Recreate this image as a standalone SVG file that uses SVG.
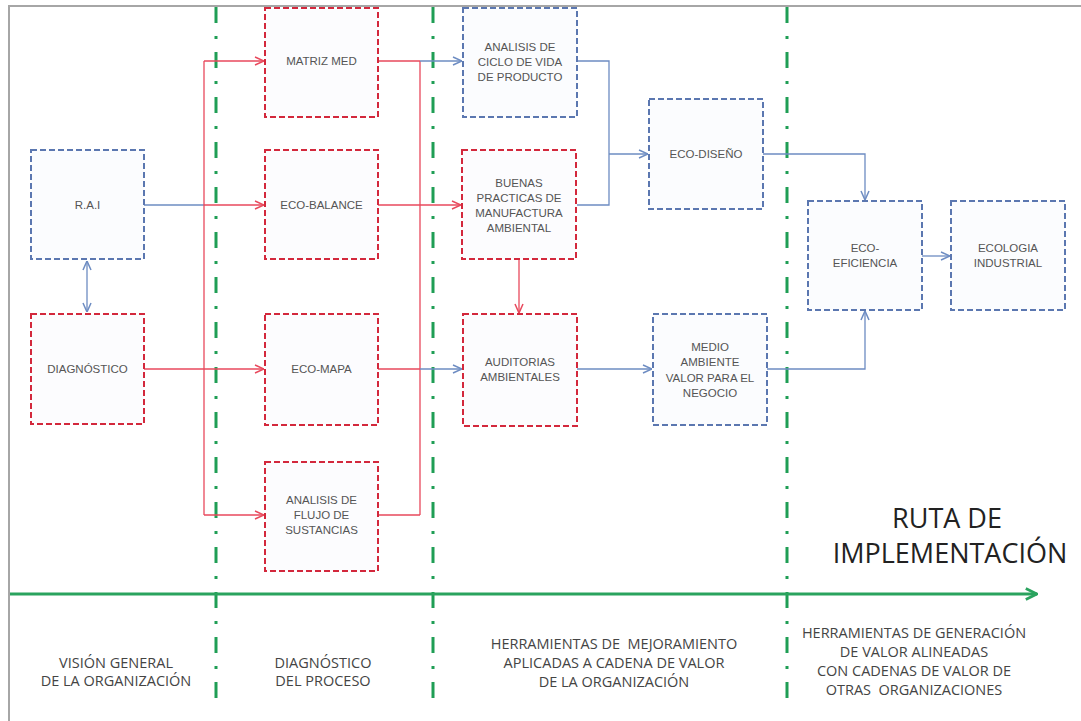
<svg xmlns="http://www.w3.org/2000/svg" width="1081" height="721" viewBox="0 0 1081 721">
<style>
.frame{fill:none;stroke:#a6a6a6;stroke-width:2}
.sep{fill:none;stroke:#1f9e55;stroke-width:3;stroke-dasharray:16 13 3 13}
.nr{fill:#fcfcfe;stroke:#d3283c;stroke-width:2;stroke-dasharray:6 3}
.nb{fill:#fbfcfe;stroke:#5b77b0;stroke-width:2;stroke-dasharray:6 3}
.t{font-family:"Liberation Sans",Arial,sans-serif;font-size:11.5px;fill:#555;text-anchor:middle}
.cr{fill:none;stroke:#e8495c;stroke-width:1.3}
.cb{fill:none;stroke:#6d8cc2;stroke-width:1.3}
.lab{font-family:"Open Sans","Liberation Sans",sans-serif;font-size:14.5px;fill:#444;text-anchor:middle}
.big{font-family:"Open Sans","Liberation Sans",sans-serif;font-size:27px;fill:#222;text-anchor:middle}
</style>
<defs>
<marker id="ar" viewBox="0 0 10 10" refX="10" refY="5" markerWidth="10" markerHeight="10" markerUnits="userSpaceOnUse" orient="auto-start-reverse"><path d="M1,1 L10,5 L1,9" fill="none" stroke="#e8495c" stroke-width="1.5"/></marker>
<marker id="ab" viewBox="0 0 10 10" refX="10" refY="5" markerWidth="10" markerHeight="10" markerUnits="userSpaceOnUse" orient="auto-start-reverse"><path d="M1,1 L10,5 L1,9" fill="none" stroke="#6d8cc2" stroke-width="1.5"/></marker>
<marker id="ag" viewBox="0 0 10 10" refX="9" refY="5" markerWidth="14" markerHeight="14" markerUnits="userSpaceOnUse" orient="auto"><path d="M1,1 L9,5 L1,9" fill="none" stroke="#2aa35e" stroke-width="2"/></marker>
</defs>
<rect x="0" y="0" width="1081" height="721" fill="#fff"/>
<rect class="frame" x="9" y="6" width="1090" height="730"/>
<g id="separators">
<line class="sep" x1="216" y1="7" x2="216" y2="705"/>
<line class="sep" x1="433" y1="7" x2="433" y2="705"/>
<line class="sep" x1="787" y1="7" x2="787" y2="705"/>
</g>
<g id="timeline">
<line x1="10" y1="594" x2="1037" y2="594" stroke="#2aa35e" stroke-width="3" marker-end="url(#ag)"/>
<text class="big" x="947" y="528">RUTA DE</text>
<text class="big" x="950" y="563">IMPLEMENTACIÓN</text>
</g>
<g id="connectors">
<path class="cb" d="M144,205 H204"/>
<path class="cb" d="M87,261 V312" marker-start="url(#ab)" marker-end="url(#ab)"/>
<path class="cr" d="M204,61 V515"/>
<path class="cr" d="M204,61 H264" marker-end="url(#ar)"/>
<path class="cr" d="M204,205 H264" marker-end="url(#ar)"/>
<path class="cr" d="M144,369 H264" marker-end="url(#ar)"/>
<path class="cr" d="M204,515 H264" marker-end="url(#ar)"/>
<path class="cr" d="M378,61 H420 M378,369 H420 M378,515 H420 M420,61 V515"/>
<path class="cr" d="M378,205 H461" marker-end="url(#ar)"/>
<path class="cr" d="M519,260 V313" marker-end="url(#ar)"/>
<path class="cb" d="M420,61 H462" marker-end="url(#ab)"/>
<path class="cb" d="M420,369 H462" marker-end="url(#ab)"/>
<path class="cb" d="M577,61 H609 V205 H577"/>
<path class="cb" d="M609,154 H648" marker-end="url(#ab)"/>
<path class="cb" d="M577,369 H652" marker-end="url(#ab)"/>
<path class="cb" d="M763,154 H865 V200" marker-end="url(#ab)"/>
<path class="cb" d="M767,369 H865 V311" marker-end="url(#ab)"/>
<path class="cb" d="M922,256 H950" marker-end="url(#ab)"/>
</g>
<g id="rai"><rect class="nb" x="31" y="150" width="113" height="109"/><text class="t" x="87.5" y="209">R.A.I</text></g>
<g id="diagnostico"><rect class="nr" x="31" y="314" width="113" height="110"/><text class="t" x="87.5" y="373">DIAGNÓSTICO</text></g>
<g id="matriz-med"><rect class="nr" x="265" y="8" width="113" height="109"/><text class="t" x="321.5" y="65">MATRIZ MED</text></g>
<g id="eco-balance"><rect class="nr" x="265" y="150" width="113" height="109"/><text class="t" x="321.5" y="209">ECO-BALANCE</text></g>
<g id="eco-mapa"><rect class="nr" x="265" y="314" width="113" height="111"/><text class="t" x="321.5" y="373">ECO-MAPA</text></g>
<g id="flujo"><rect class="nr" x="265" y="462" width="113" height="109"/><text class="t" x="321.5" y="504">ANALISIS DE</text><text class="t" x="321.5" y="519">FLUJO DE</text><text class="t" x="321.5" y="534">SUSTANCIAS</text></g>
<g id="ciclo-vida"><rect class="nb" x="463" y="8" width="114" height="109"/><text class="t" x="520" y="51">ANALISIS DE</text><text class="t" x="520" y="66">CICLO DE VIDA</text><text class="t" x="520" y="81">DE PRODUCTO</text></g>
<g id="buenas-practicas"><rect class="nr" x="462" y="150" width="114" height="109"/><text class="t" x="519" y="187">BUENAS</text><text class="t" x="519" y="202">PRACTICAS DE</text><text class="t" x="519" y="217">MANUFACTURA</text><text class="t" x="519" y="232">AMBIENTAL</text></g>
<g id="auditorias"><rect class="nr" x="463" y="314" width="114" height="112"/><text class="t" x="520" y="366">AUDITORIAS</text><text class="t" x="520" y="381">AMBIENTALES</text></g>
<g id="eco-diseno"><rect class="nb" x="649" y="99" width="114" height="110"/><text class="t" x="706" y="158">ECO-DISEÑO</text></g>
<g id="medio-ambiente"><rect class="nb" x="653" y="314" width="114" height="111"/><text class="t" x="710" y="351">MEDIO</text><text class="t" x="710" y="366">AMBIENTE</text><text class="t" x="710" y="382">VALOR PARA EL</text><text class="t" x="710" y="397">NEGOCIO</text></g>
<g id="eco-eficiencia"><rect class="nb" x="808" y="201" width="114" height="109"/><text class="t" x="865" y="252">ECO-</text><text class="t" x="865" y="267">EFICIENCIA</text></g>
<g id="ecologia-industrial"><rect class="nb" x="951" y="201" width="114" height="109"/><text class="t" x="1008" y="252">ECOLOGIA</text><text class="t" x="1008" y="267">INDUSTRIAL</text></g>
<g id="phase-labels">
<text class="lab" x="116" y="668">VISIÓN GENERAL</text>
<text class="lab" x="116" y="686">DE LA ORGANIZACIÓN</text>
<text class="lab" x="323" y="668">DIAGNÓSTICO</text>
<text class="lab" x="323" y="686">DEL PROCESO</text>
<text class="lab" x="614" y="649" xml:space="preserve">HERRAMIENTAS DE  MEJORAMIENTO</text>
<text class="lab" x="614" y="668">APLICADAS A CADENA DE VALOR</text>
<text class="lab" x="614" y="687">DE LA ORGANIZACIÓN</text>
<text class="lab" x="914" y="638">HERRAMIENTAS DE GENERACIÓN</text>
<text class="lab" x="914" y="657">DE VALOR ALINEADAS</text>
<text class="lab" x="914" y="676">CON CADENAS DE VALOR DE</text>
<text class="lab" x="914" y="695" xml:space="preserve">OTRAS  ORGANIZACIONES</text>
</g>
</svg>
